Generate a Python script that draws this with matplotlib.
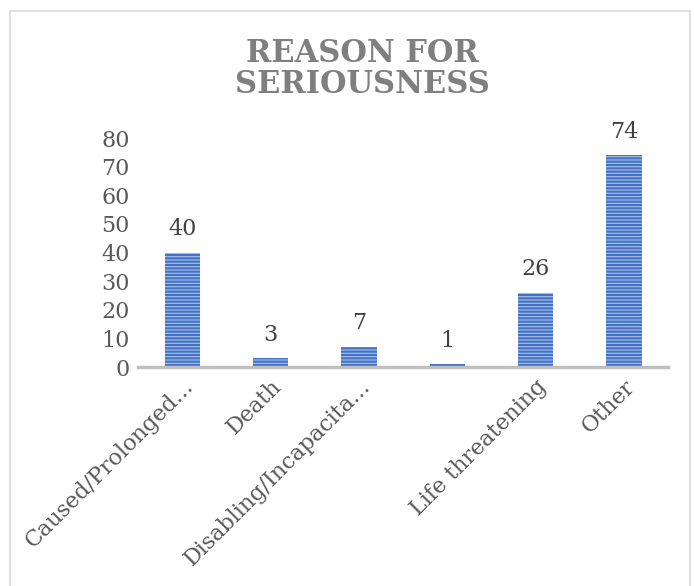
import matplotlib
matplotlib.use("Agg")
import matplotlib.pyplot as plt
from matplotlib.patches import Rectangle

categories = ["Caused/Prolonged...", "Death", "Disabling/Incapacita...",
              "", "Life threatening", "Other"]
values = [40, 3, 7, 1, 26, 74]
yticks = [0, 10, 20, 30, 40, 50, 60, 70, 80]

plt.rcParams['font.family'] = ['DejaVu Serif']
plt.rcParams['hatch.linewidth'] = 1.6
plt.rcParams['hatch.color'] = '#4472C4'
txt = '#595959'

fig = plt.figure(figsize=(6.94, 5.86), dpi=100)
ax = fig.add_axes([0.199, 0.3737, 0.764, 0.3908])

x = range(len(values))
ax.bar(x, values, width=0.4, color='#A9C1EA', edgecolor='#4472C4',
       linewidth=0, hatch='-----')

# data labels above bars
for i, v in enumerate(values):
    ax.annotate(str(v), (i, v), xytext=(0, 9), textcoords='offset points',
                ha='center', va='bottom', fontsize=16, color='#404040')

ax.set_xlim(-0.5, len(values) - 0.5)
ax.set_ylim(0, 80)
ax.set_yticks(yticks)
ax.set_yticklabels([str(t) for t in yticks], fontsize=16, color=txt)
ax.set_xticks(list(x))
ax.set_xticklabels(categories, rotation=45, ha='right', va='top',
                   rotation_mode='anchor', fontsize=16, color=txt)
ax.tick_params(axis='both', length=0)
ax.tick_params(axis='y', pad=6)
ax.tick_params(axis='x', pad=6)

for s in ['top', 'right', 'left']:
    ax.spines[s].set_visible(False)
ax.spines['bottom'].set_color('#BFBFBF')
ax.spines['bottom'].set_linewidth(2.5)

fig.text(0.522, 0.935, "REASON FOR\nSERIOUSNESS", ha='center', va='top',
         fontsize=22, fontweight='bold', color='#7F7F7F', linespacing=1.0)

# chart frame
fig.patches.append(Rectangle((0.0145, -0.01), 0.98, 0.992, transform=fig.transFigure,
                             fill=False, edgecolor='#D9D9D9', linewidth=1.2))

fig.savefig("out.png", dpi=100)
